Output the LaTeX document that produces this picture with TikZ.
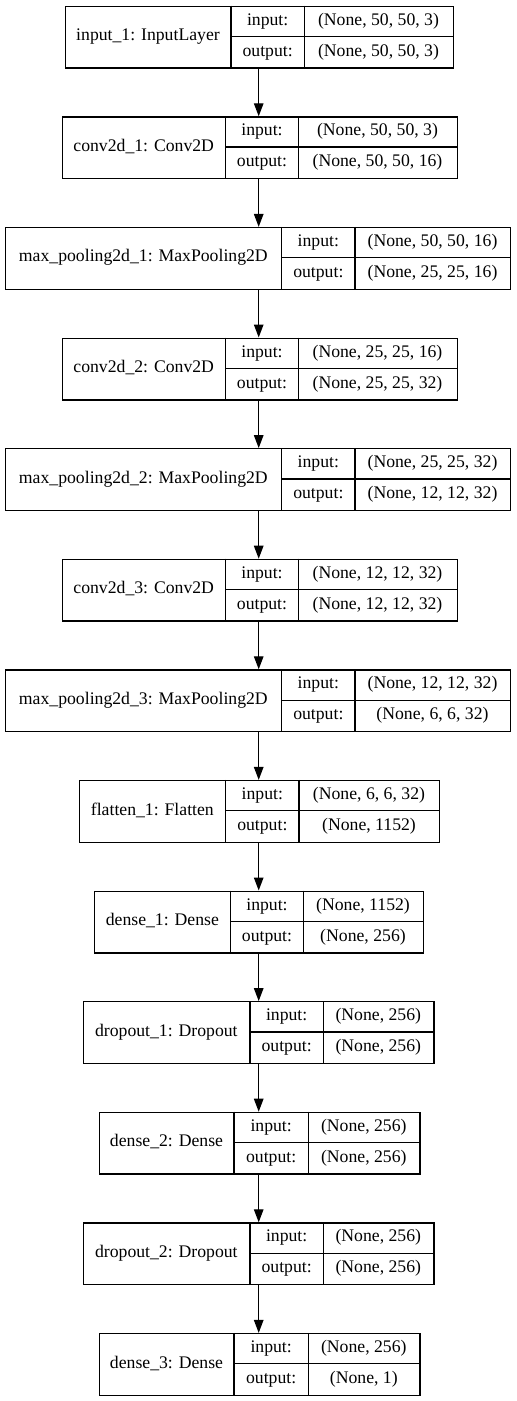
\documentclass[tikz,border=0pt]{standalone}
\usepackage{fontspec}
\setmainfont{Liberation Serif}
\newfontfamily\layerfont{Liberation Serif}
\usetikzlibrary{arrows.meta}
\tikzset{
  layerbox/.style={draw, line width=1.3bp, inner sep=0pt, minimum height=61.7bp, fill=white},
  cell/.style={line width=1.3bp},
  txt/.style={inner sep=0pt, text height=12.5bp, text depth=4bp, font=\layerfont\fontsize{17.7bp}{20bp}\selectfont},
  arr/.style={line width=1.3bp, -{Triangle[length=13bp,width=9.5bp]}}
}
% #1 name, #2 top, #3 x0, #4 x1, #5 x2, #6 x3, #7 label, #8 input, #9 output
\newcommand\kerasLayer[9]{%
  \pgfmathsetmacro\lwid{#6-#3}%
  \node[layerbox, minimum width=\lwid bp, anchor=north west] (#1) at (#3,-#2) {};
  \draw[cell] (#4,-#2) -- ++(0,-61.7);
  \draw[cell] (#5,-#2) -- ++(0,-61.7);
  \draw[cell] (#4,{-#2-30.85}) -- (#6,{-#2-30.85});
  \node[txt] (#1-l) at ({(#3+#4)/2},{-#2-30.85}) {#7};
  \node[txt] (#1-ik) at ({(#4+#5)/2},{-#2-15.4}) {input:};
  \node[txt] (#1-ok) at ({(#4+#5)/2},{-#2-46.3}) {output:};
  \node[txt] (#1-iv) at ({(#5+#6)/2},{-#2-15.4}) {#8};
  \node[txt] (#1-ov) at ({(#5+#6)/2},{-#2-46.3}) {#9};
}
\begin{document}
\begin{tikzpicture}[x=1bp,y=1bp]
\useasboundingbox (0,0) rectangle (517,-1401);
\kerasLayer{l1}{5.7}{65}{231}{304.3}{452.7}{input\_1: InputLayer}{(None, 50, 50, 3)}{(None, 50, 50, 3)}
\kerasLayer{l2}{116.3}{61.7}{225.7}{298.3}{456.7}{conv2d\_1: Conv2D}{(None, 50, 50, 3)}{(None, 50, 50, 16)}
\kerasLayer{l3}{226.9}{5}{281.7}{355}{510}{max\_pooling2d\_1: MaxPooling2D}{(None, 50, 50, 16)}{(None, 25, 25, 16)}
\kerasLayer{l4}{337.5}{61.7}{225.7}{298.3}{456.7}{conv2d\_2: Conv2D}{(None, 25, 25, 16)}{(None, 25, 25, 32)}
\kerasLayer{l5}{448.1}{5}{281.7}{355}{510}{max\_pooling2d\_2: MaxPooling2D}{(None, 25, 25, 32)}{(None, 12, 12, 32)}
\kerasLayer{l6}{558.7}{61.7}{225.7}{298.3}{456.7}{conv2d\_3: Conv2D}{(None, 12, 12, 32)}{(None, 12, 12, 32)}
\kerasLayer{l7}{669.3}{5}{281.7}{355}{510}{max\_pooling2d\_3: MaxPooling2D}{(None, 12, 12, 32)}{(None, 6, 6, 32)}
\kerasLayer{l8}{779.9}{79}{225.7}{299}{439}{flatten\_1: Flatten}{(None, 6, 6, 32)}{(None, 1152)}
\kerasLayer{l9}{890.5}{94}{230.7}{303.3}{422.7}{dense\_1: Dense}{(None, 1152)}{(None, 256)}
\kerasLayer{l10}{1001.1}{82.7}{250}{323.3}{433.3}{dropout\_1: Dropout}{(None, 256)}{(None, 256)}
\kerasLayer{l11}{1111.7}{99}{234}{308.3}{419.3}{dense\_2: Dense}{(None, 256)}{(None, 256)}
\kerasLayer{l12}{1222.3}{82.7}{250}{323.3}{433.3}{dropout\_2: Dropout}{(None, 256)}{(None, 256)}
\kerasLayer{l13}{1332.9}{99}{234}{308.3}{419.3}{dense\_3: Dense}{(None, 256)}{(None, 1)}
\coordinate (ax) at (258.7,0);
\foreach \a/\b in {l1/l2,l2/l3,l3/l4,l4/l5,l5/l6,l6/l7,l7/l8,l8/l9,l9/l10,l10/l11,l11/l12,l12/l13}{
  \draw[arr] (ax |- \a.south) -- (ax |- \b.north);
}
\end{tikzpicture}
\end{document}
